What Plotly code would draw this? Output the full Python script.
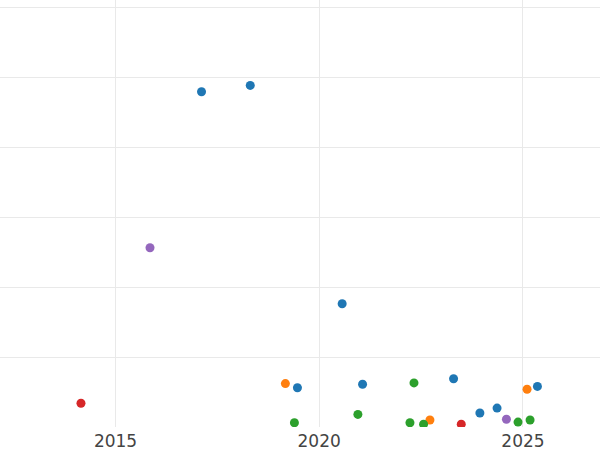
import plotly.graph_objects as go

# Data (dates, values in arbitrary units)
blue_dates = ["2017-02-10", "2018-04-23", "2019-06-20", "2020-07-25", "2021-01-24",
              "2023-04-20", "2023-12-12", "2024-05-14", "2025-05-11"]
blue_vals = [47.9, 48.8, 5.6, 17.6, 6.1, 6.9, 2.0, 2.7, 5.8]

orange_dates = ["2019-03-04", "2022-09-20", "2025-02-07"]
orange_vals = [6.2, 1.0, 5.4]

green_dates = ["2019-05-24", "2020-12-13", "2022-03-25", "2022-04-30", "2022-07-25",
               "2024-11-18", "2025-03-06"]
green_vals = [0.6, 1.8, 0.6, 6.3, 0.4, 0.7, 1.0]

red_dates = ["2014-02-25", "2023-06-28"]
red_vals = [3.4, 0.4]

purple_dates = ["2015-11-06", "2024-08-06"]
purple_vals = [25.6, 1.1]

series = [
    ("Blue", blue_dates, blue_vals, "#1f77b4"),
    ("Orange", orange_dates, orange_vals, "#ff7f0e"),
    ("Green", green_dates, green_vals, "#2ca02c"),
    ("Red", red_dates, red_vals, "#d62728"),
    ("Purple", purple_dates, purple_vals, "#9467bd"),
]

fig = go.Figure()
for name, xs, ys, color in series:
    fig.add_trace(go.Scatter(x=xs, y=ys, mode="markers", name=name,
                             marker=dict(color=color, size=9),
                             showlegend=False))

fig.update_layout(
    width=600, height=450,
    margin=dict(l=0, r=0, t=0, b=23),
    paper_bgcolor="white", plot_bgcolor="white",
    font=dict(family="DejaVu Sans", size=17, color="#444444"),
    xaxis=dict(range=["2012-03-01", "2026-11-23"], tickvals=["2015-01-01", "2020-01-01", "2025-01-01"],
               tickformat="%Y", showgrid=True, gridcolor="#e9e9e9", gridwidth=1,
               zeroline=False, showline=False, ticks="", ticklabelstandoff=2),
    yaxis=dict(range=[0, 61], dtick=10, tick0=0, showticklabels=False,
               showgrid=True, gridcolor="#e9e9e9", gridwidth=1,
               zeroline=False, showline=False, ticks=""),
)

fig.write_html("out.html", config={"displayModeBar": False},
               post_script="document.body.style.margin='0';document.body.style.padding='0';")
